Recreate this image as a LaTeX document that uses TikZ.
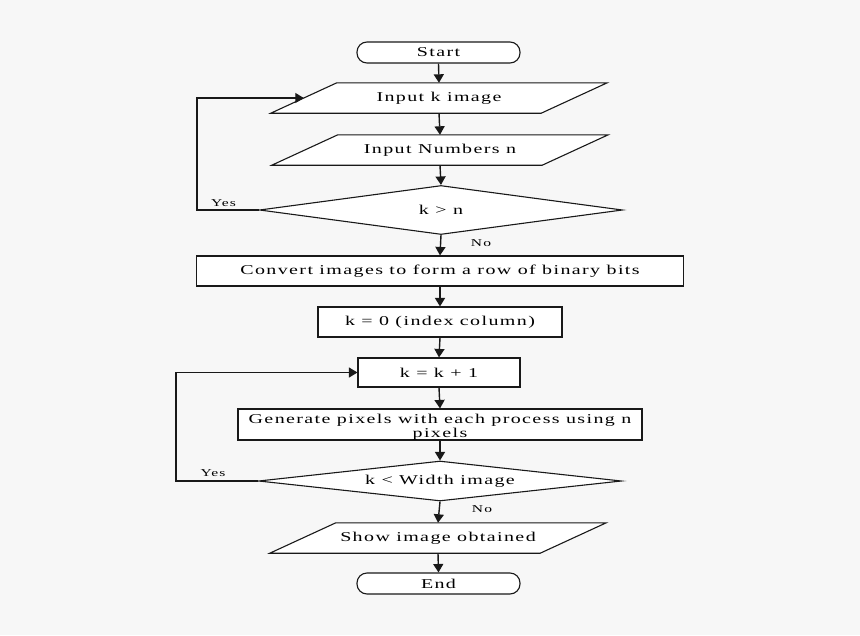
\documentclass[tikz,border=0pt]{standalone}
\usepackage{fontspec}
\setmainfont{Liberation Serif}[LetterSpace=7.0]
\usepackage{graphicx}
\usetikzlibrary{shapes.geometric,arrows.meta,backgrounds,calc}
\definecolor{bg}{RGB}{247,247,247}
\definecolor{ln}{RGB}{25,25,25}
\newcommand\wt[1]{\scalebox{1.48}[1]{#1}}
\tikzset{
  base/.style={inner sep=0pt, font=\fontsize{13.5}{15}\selectfont, text=black},
  boxnode/.style={base, draw=ln, fill=white, line width=1.1pt, rectangle},
  termnode/.style={base, draw=ln, fill=white, line width=1.1pt, rectangle, rounded corners=10pt, minimum width=163pt, minimum height=21pt},
  ionode/.style={base, minimum width=270pt, minimum height=30pt},
  decnode/.style={base, draw=ln, fill=white, line width=1.1pt, diamond, aspect=9, minimum width=363pt},
  lbl/.style={inner sep=0pt, font=\fontsize{10.5}{12}\selectfont},
  arr/.style={draw=ln, line width=1.4pt, -{Triangle[length=8.5pt,width=10pt]}},
  looparr/.style={arr, line width=1.1pt},
  ioshape/.style={draw=ln, fill=white, line width=1.1pt, line join=miter}
}
\begin{document}
\begin{tikzpicture}[x=1pt,y=-1pt]
\useasboundingbox (0,0) rectangle (860,635);
\begin{scope}[on background layer]
\fill[bg] (0,0) rectangle (860,635);
\end{scope}

\node[termnode] (start) at (438.5,52.5) {\wt{Start}};
\node[ionode] (in1) at (439,98) {\wt{Input k image}};
\node[ionode] (in2) at (440,150) {\wt{Input Numbers n}};
\node[decnode, minimum height=49pt] (d1) at (441,210) {\wt{k > n}};
\node[boxnode, minimum width=487pt, minimum height=30pt] (conv) at (440,271) {\wt{Convert images to form a row of binary bits}};
\node[boxnode, minimum width=244pt, minimum height=30pt] (k0) at (440,322) {\wt{k = 0 (index column)}};
\node[boxnode, minimum width=162pt, minimum height=29pt] (kk1) at (439,372.5) {\wt{k = k + 1}};
\node[boxnode, minimum width=404pt, minimum height=31pt, align=center] (gen) at (440,424.5) {\raisebox{-2.5pt}[\height][\depth]{\wt{\begin{tabular}{@{}c@{}}Generate pixels with each process using n\\[-1pt]pixels\end{tabular}}}};
\node[decnode, minimum height=40pt] (d2) at (440,481) {\wt{k < Width image}};
\node[ionode] (show) at (438,538) {\wt{Show image obtained}};
\node[termnode] (end) at (438.5,583.5) {\wt{End}};

\begin{scope}[on background layer]
\foreach \n in {in1,in2,show}{
  \draw[ioshape] ($(\n.south west)+(-33,0)$) -- ($(\n.south east)+(-33,0)$) -- ($(\n.north east)+(33,0)$) -- ($(\n.north west)+(33,0)$) -- cycle;
}
\end{scope}

\coordinate (l1) at (197,210);
\coordinate (l2) at (176,481);

\draw[arr] (start.south) -- (in1.north);
\draw[arr] (in1.south) -- (in2.north);
\draw[arr] (in2.south) -- (d1.north);
\draw[arr] (d1.south) -- (conv.north);
\draw[arr] (conv.south) -- (k0.north);
\draw[arr] (k0.south) -- (kk1.north);
\draw[arr] (kk1.south) -- (gen.north);
\draw[arr] (gen.south) -- (d2.north);
\draw[arr] (d2.south) -- (show.north);
\draw[arr] (show.south) -- (end.north);
\draw[looparr] (d1.west) -- (l1) |- (in1.west);
\draw[looparr] (d2.west) -- (l2) |- (kk1.west);

\node[lbl] (yes1) at (223.5,203) {\wt{Yes}};
\node[lbl] (no1) at (481,243) {\wt{No}};
\node[lbl] (yes2) at (213,473.5) {\wt{Yes}};
\node[lbl] (no2) at (482,509) {\wt{No}};
\end{tikzpicture}
\end{document}
